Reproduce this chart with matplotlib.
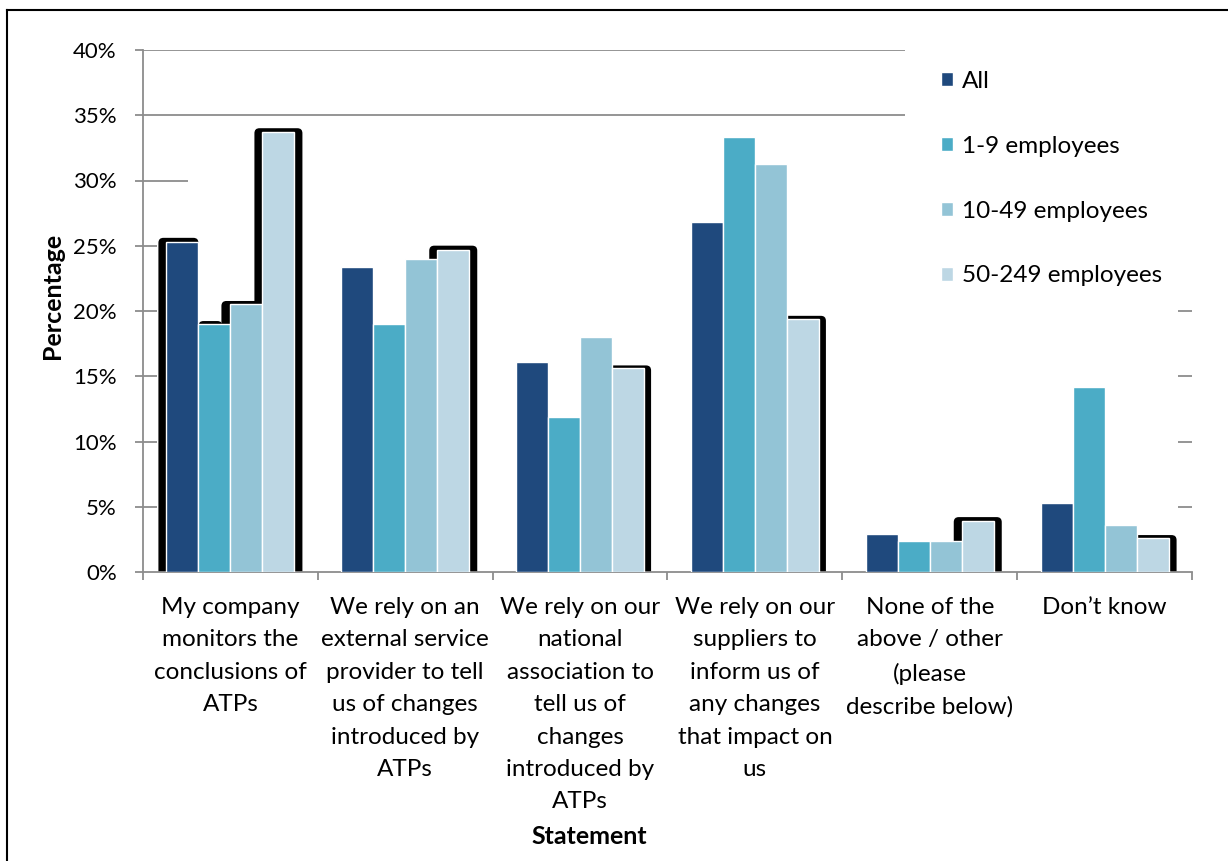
import matplotlib
matplotlib.use("Agg")
import matplotlib.pyplot as plt
from matplotlib.patches import FancyBboxPatch
from matplotlib.lines import Line2D
import numpy as np

plt.rcParams['font.family'] = ['Lato', 'DejaVu Sans']

# ---------------- data ----------------
categories = [
    "My company\nmonitors the\nconclusions of\nATPs",
    "We rely on an\nexternal service\nprovider to tell\nus of changes\nintroduced by\nATPs",
    "We rely on our\nnational\nassociation to\ntell us of\nchanges\nintroduced by\nATPs",
    "We rely on our\nsuppliers to\ninform us of\nany changes\nthat impact on\nus",
    "None of the\nabove / other\n(please\ndescribe below)",
    "Don\u2019t know",
]
series_names = ["All", "1-9 employees", "10-49 employees", "50-249 employees"]
all_vals = [25.3, 23.4, 16.1, 26.8, 2.9, 5.3]
emp_1_9 = [19.0, 19.0, 11.9, 33.3, 2.4, 14.2]
emp_10_49 = [20.5, 24.0, 18.0, 31.3, 2.4, 3.6]
emp_50_249 = [33.7, 24.7, 15.6, 19.4, 3.9, 2.6]
yticks = [0, 5, 10, 15, 20, 25, 30, 35, 40]
ytick_labels = ["0%", "5%", "10%", "15%", "20%", "25%", "30%", "35%", "40%"]
x_title = "Statement"
y_title = "Percentage"

# ---------------- style ----------------
colors = ["#1F497D", "#4BACC6", "#93C4D6", "#BDD7E4"]
grid_col = "#8C8C8C"
FW, FH = 1228, 861
AX_L, AX_R, AX_T, AX_B = 143, 1192, 50, 572
W, H = AX_R - AX_L, AX_B - AX_T
FS = 17.5

# shadow artefacts: (series index, category index) -> (left px, right px, top px)
shadows = {
    (0, 0): (8, 0, 4),
    (1, 0): (0, -8, 3),
    (2, 0): (9, 0, 3.5),
    (3, 0): (8, 8, 4),
    (3, 1): (8, 8, 4),
    (3, 2): (8, 7, 3),
    (3, 3): (8, 7, 3),
    (3, 4): (8, 8, 4),
    (3, 5): (8, 8, 3),
}

fig = plt.figure(figsize=(FW / 100, FH / 100), dpi=100)
ax = fig.add_axes([AX_L / FW, 1 - AX_B / FH, W / FW, H / FH])
ax.set_xlim(-0.5, len(categories) - 0.5)
ax.set_ylim(yticks[0], yticks[-1])

xpp = len(categories) / W
ypp = (yticks[-1] - yticks[0]) / H
bw = 32 * xpp
offsets = (np.arange(4) - 1.5) * bw
x = np.arange(len(categories))

series = [all_vals, emp_1_9, emp_10_49, emp_50_249]
bars = []
for i, (vals, c, name) in enumerate(zip(series, colors, series_names)):
    b = ax.bar(x + offsets[i], vals, width=bw, color=c, edgecolor="white",
               linewidth=1.0, label=name, zorder=3)
    bars.append(b)

for (si, ci), (L, R, T) in shadows.items():
    rect = bars[si][ci]
    x0 = rect.get_x() - L * xpp
    w = rect.get_width() + (L + R) * xpp
    y0 = -6 * ypp
    h = rect.get_height() + T * ypp - y0
    p = FancyBboxPatch((x0, y0), w, h,
                       boxstyle=f"round,pad=0,rounding_size={5 * xpp}",
                       mutation_aspect=ypp / xpp, fc="black", ec="none", zorder=2)
    ax.add_patch(p)

# partial gridlines (as in the reference)
yt = ax.get_yaxis_transform()
ax.hlines([40, 35], 0, (905 - AX_L) / W, transform=yt, color=grid_col, lw=1.3, zorder=1)
ax.hlines([30], 0, 45 / W, transform=yt, color=grid_col, lw=1.3, zorder=1)
ax.hlines([25, 20, 15, 10, 5], 0, 14 / W, transform=yt, color=grid_col, lw=1.3, zorder=1)
ax.hlines([20, 15, 10, 5], 1 - 14 / W, 1, transform=yt, color=grid_col, lw=1.3, zorder=1)

for s in ["top", "right"]:
    ax.spines[s].set_visible(False)
for s in ["left", "bottom"]:
    ax.spines[s].set_color(grid_col)
    ax.spines[s].set_linewidth(1.3)

ax.set_yticks(yticks, ytick_labels)
ax.tick_params(axis="y", direction="out", length=5.8, width=1.3, color=grid_col,
               labelsize=16, pad=13, labelcolor="black")
ax.set_xticks(x, categories)
ax.set_xticks(np.arange(len(categories) + 1) - 0.5, minor=True)
ax.tick_params(axis="x", which="major", length=0, pad=18, labelsize=FS)
ax.tick_params(axis="x", which="minor", direction="out", length=5.8, width=1.3, color=grid_col)
for t in ax.get_xticklabels():
    t.set_linespacing(1.67)
    t.set_horizontalalignment("center")

leg = ax.legend(loc="upper left", bbox_to_anchor=(941 / FW, 1 - 71 / FH),
                bbox_transform=fig.transFigure, frameon=False, fontsize=FS,
                handlelength=0.5, handleheight=0.5, handletextpad=0.35,
                labelspacing=1.80, borderpad=0, borderaxespad=0)

fig.text(589 / FW, 1 - 836 / FH, x_title, ha="center", va="center",
         fontsize=18, fontweight="bold")
fig.text(52 / FW, 1 - 296 / FH, y_title, ha="center", va="center",
         fontsize=18, fontweight="bold", rotation=90)

# outer frame (top and left edges)
fig.add_artist(Line2D([7 / FW, 7 / FW], [0, 1 - 10 / FH], transform=fig.transFigure,
                      color="black", lw=1.5))
fig.add_artist(Line2D([7 / FW, 1], [1 - 10 / FH, 1 - 10 / FH], transform=fig.transFigure,
                      color="black", lw=1.5))

fig.savefig("out.png", dpi=100)
